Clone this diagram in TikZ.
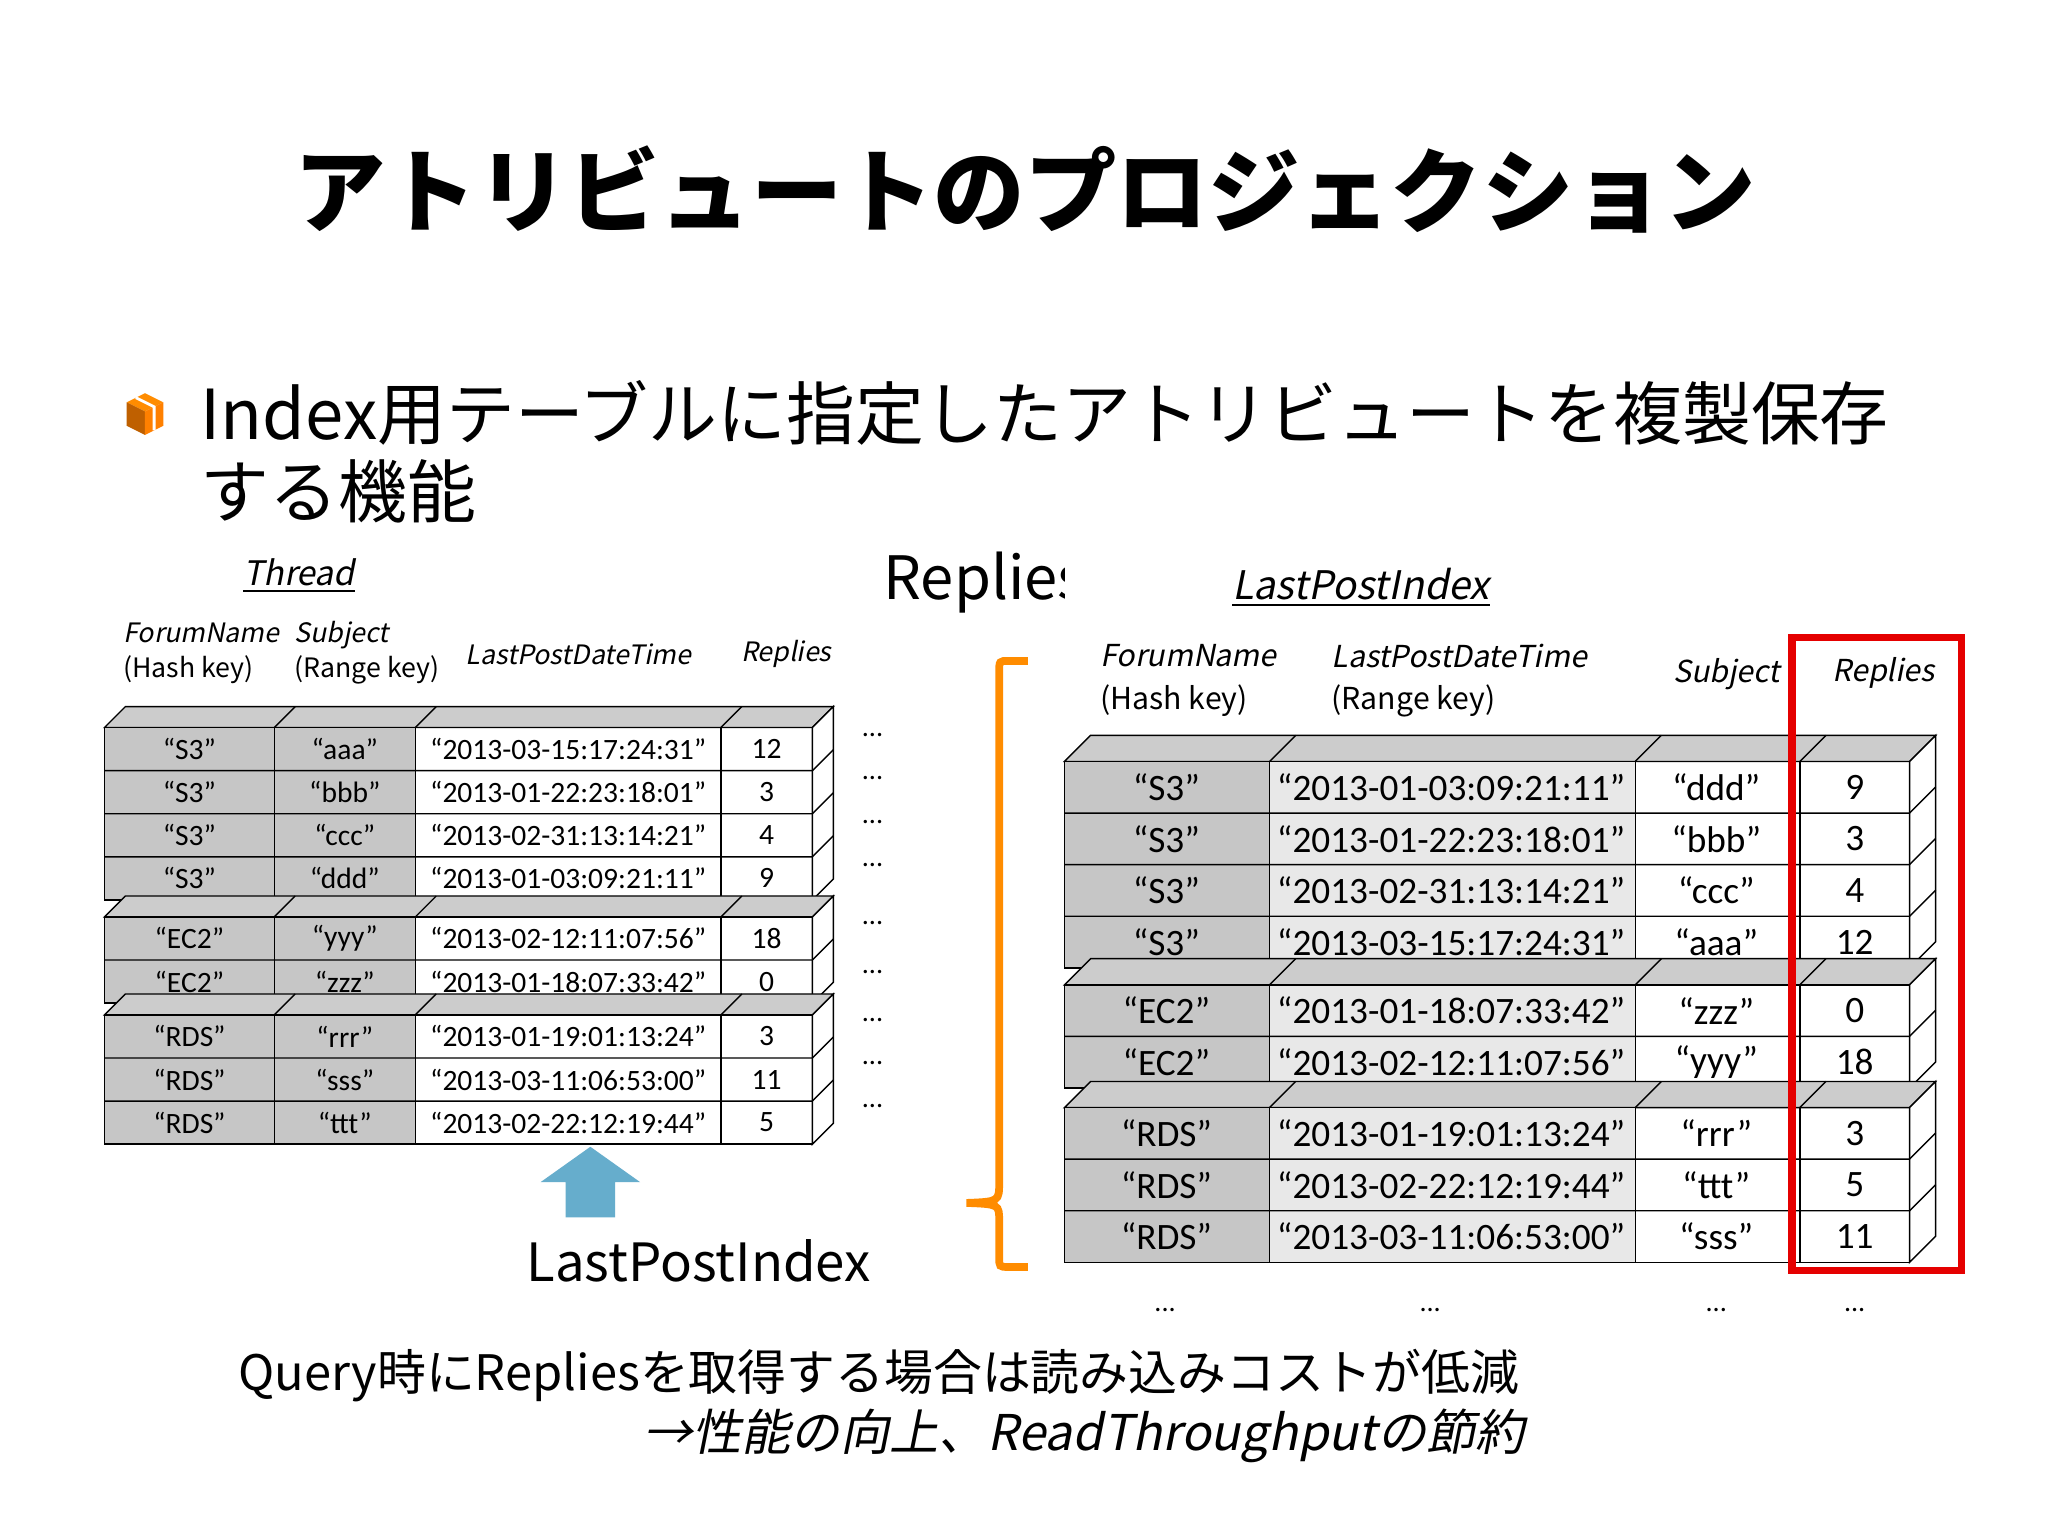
\documentclass[tikz,border=0pt]{standalone}
\usepackage{fontspec}
\setmainfont{Noto Sans CJK JP}
\newfontfamily\jp{Noto Sans CJK JP}
\newfontfamily\jpit[FakeSlant=0.2]{Noto Sans CJK JP}
\newfontfamily\tb{Carlito}
\newcommand\leftgrp[2]{%
  \pgfmathsetmacro\yA{#1}\pgfmathsetmacro\yB{#1+#2*33}
  \draw[fill=gray!40] (80,\yA)--(96,\yA-16)--(638,\yA-16)--(622,\yA)--cycle;
  \foreach \c in {210,318,552} \draw (\c,\yA)--(\c+16,\yA-16);
  \draw[fill=white] (622,\yA)--(638,\yA-16)--(638,\yB-16)--(622,\yB)--cycle;
  \fill[gray!45] (80,\yA) rectangle (318,\yB);
  \draw (80,\yA) rectangle (622,\yB);
  \foreach \c in {210,318,552} \draw (\c,\yA)--(\c,\yB);
  \foreach \k in {1,...,#2} {\ifnum\k<#2 \draw (80,\yA+\k*33)--(622,\yA+\k*33)--(638,\yA+\k*33-16);\fi}
}
\newcommand\rightgrp[2]{%
  \pgfmathsetmacro\yA{#1}\pgfmathsetmacro\yB{#1+#2*39.5}
  \draw[fill=gray!40] (815,\yA)--(835,\yA-20)--(1482,\yA-20)--(1462,\yA)--cycle;
  \foreach \c in {972,1252,1378} \draw (\c,\yA)--(\c+20,\yA-20);
  \draw[fill=white] (1462,\yA)--(1482,\yA-20)--(1482,\yB-20)--(1462,\yB)--cycle;
  \fill[gray!45] (815,\yA) rectangle (972,\yB);
  \fill[gray!18] (972,\yA) rectangle (1252,\yB);
  \draw (815,\yA) rectangle (1462,\yB);
  \foreach \c in {972,1252,1378} \draw (\c,\yA)--(\c,\yB);
  \foreach \k in {1,...,#2} {\ifnum\k<#2 \draw (815,\yA+\k*39.5)--(1462,\yA+\k*39.5)--(1482,\yA+\k*39.5-20);\fi}
}
\begin{document}
\begin{tikzpicture}[x=0.01306cm,y=-0.01306cm,
  lc/.style={font=\tb\fontsize{8.4}{10}\selectfont,inner sep=0},
  rc/.style={font=\tb\fontsize{10.6}{13}\selectfont,inner sep=0},
  dots/.style={font=\tb\fontsize{8}{10}\selectfont,inner sep=0},
  hd/.style={font=\fontsize{7.6}{10}\selectfont,align=left,anchor=west,inner sep=0},
  rhd/.style={font=\fontsize{8.6}{12}\selectfont,align=left,anchor=west,inner sep=0},
  big/.style={font=\fontsize{15}{18}\selectfont,inner sep=0}]
\useasboundingbox[fill=white] (0,0) rectangle (1568,1176);
% title
\node[font=\fontsize{26}{30}\selectfont\bfseries] (title) at (785,145) {アトリビュートのプロジェクション};
% bullet cube
\begin{scope}[shift={(111,317)}]
\fill[orange!90!yellow] (0,-16)--(14,-9)--(0,-2)--(-14,-9)--cycle;
\fill[orange!75!black] (-14,-9)--(0,-2)--(0,16)--(-14,9)--cycle;
\fill[orange] (14,-9)--(0,-2)--(0,16)--(14,9)--cycle;
\draw[white,line width=0.8pt] (-7,-12.5)--(7,-5.5)--(7,12.5);
\end{scope}
\node[font=\fontsize{19.6}{30}\selectfont,anchor=west,inner sep=0] (b1) at (153,316) {Index用テーブルに指定したアトリビュートを複製保存};
\node[font=\fontsize{19.6}{30}\selectfont,anchor=west,inner sep=0] (b2) at (153,376) {する機能};
% left headers
\node[font=\fontsize{9.6}{12}\selectfont\jpit] (thr) at (229,441) {\underline{Thread}};
\node[hd] (h1) at (94,500) {{\jpit ForumName}\\(Hash key)};
\node[hd] (h2) at (225,500) {{\jpit Subject}\\(Range key)};
\node[hd,anchor=center] (h3) at (443,501) {\jpit LastPostDateTime};
\node[hd,anchor=center] (h4) at (602,501) {\jpit Replies};
% left table
\leftgrp{557}{4}
\leftgrp{702}{2}
\leftgrp{777}{3}
\foreach \y/\a/\b/\c/\e [count=\i] in {573.5/S3/aaa/2013-03-15:17:24:31/12,606.5/S3/bbb/2013-01-22:23:18:01/3,639.5/S3/ccc/2013-02-31:13:14:21/4,672.5/S3/ddd/2013-01-03:09:21:11/9,718.5/EC2/yyy/2013-02-12:11:07:56/18,751.5/EC2/zzz/2013-01-18:07:33:42/0,793.5/RDS/rrr/2013-01-19:01:13:24/3,826.5/RDS/sss/2013-03-11:06:53:00/11,859.5/RDS/ttt/2013-02-22:12:19:44/5}{
  \node[lc] (la\i) at (145,\y) {“\a”};
  \node[lc] (lb\i) at (264,\y) {“\b”};
  \node[lc] (lc\i) at (435,\y) {“\c”};
  \node[lc] (ld\i) at (587,\y) {\e};
}
\foreach \y [count=\i] in {563,596,629,662,707,744,781,814,847} \node[dots] (ldots\i) at (668,\y) {...};
% arrow
\fill[blue!30!cyan!50!gray!80] (433,932)--(433,905)--(414,905)--(452,878)--(490,905)--(471,905)--(471,932)--cycle;
\node[big] (lpi) at (535,965) {LastPostIndex};
\begin{scope}
\clip (600,400) rectangle (815,480);
\node[big,anchor=west,font=\fontsize{17}{20}\selectfont] (rep) at (676,446) {Replies};
\end{scope}
% brace
\draw[orange!90!yellow,line width=2.2pt] (787,506)--(772,506) .. controls (765,506) .. (765,515)--(765,905) .. controls (765,920) .. (740,921) .. controls (765,922) .. (765,935)--(765,962) .. controls (765,970) .. (772,970)--(787,970);
% right headers
\node[font=\fontsize{11.2}{14}\selectfont\jpit] (lpt) at (1042,450) {\underline{LastPostIndex}};
\node[rhd] (r1) at (842,521) {{\jpit ForumName}\\(Hash key)};
\node[rhd] (r2) at (1019,521) {{\jpit LastPostDateTime}\\(Range key)};
\node[rhd,anchor=center] (r3) at (1322,516) {\jpit Subject};
\node[rhd,anchor=center] (r4) at (1442,515) {\jpit Replies};
% right table
\rightgrp{583}{4}
\rightgrp{754}{2}
\rightgrp{848}{3}
\foreach \y/\a/\b/\c/\e [count=\i] in {602.75/S3/2013-01-03:09:21:11/ddd/9,642.25/S3/2013-01-22:23:18:01/bbb/3,681.75/S3/2013-02-31:13:14:21/ccc/4,721.25/S3/2013-03-15:17:24:31/aaa/12,773.75/EC2/2013-01-18:07:33:42/zzz/0,813.25/EC2/2013-02-12:11:07:56/yyy/18,867.75/RDS/2013-01-19:01:13:24/rrr/3,907.25/RDS/2013-02-22:12:19:44/ttt/5,946.75/RDS/2013-03-11:06:53:00/sss/11}{
  \node[rc] (ra\i) at (893,\y) {“\a”};
  \node[rc] (rb\i) at (1111,\y) {“\b”};
  \node[rc] (rc\i) at (1314,\y) {“\c”};
  \node[rc] (rd\i) at (1420,\y) {\e};
}
\foreach \x [count=\i] in {892,1095,1314,1420} \node[dots] (rdots\i) at (\x,1003) {...};
\draw[red!90!black,line width=2pt] (1372,488) rectangle (1502,973);
% bottom text
\node[font=\fontsize{13.9}{17}\selectfont,anchor=west,inner sep=0] (q1) at (182,1053) {Query時にRepliesを取得する場合は読み込みコストが低減};
\node[font=\fontsize{14}{17}\selectfont\jpit,anchor=east,inner sep=0] (q2) at (1168,1099) {→性能の向上、ReadThroughputの節約};
\end{tikzpicture}
\end{document}
